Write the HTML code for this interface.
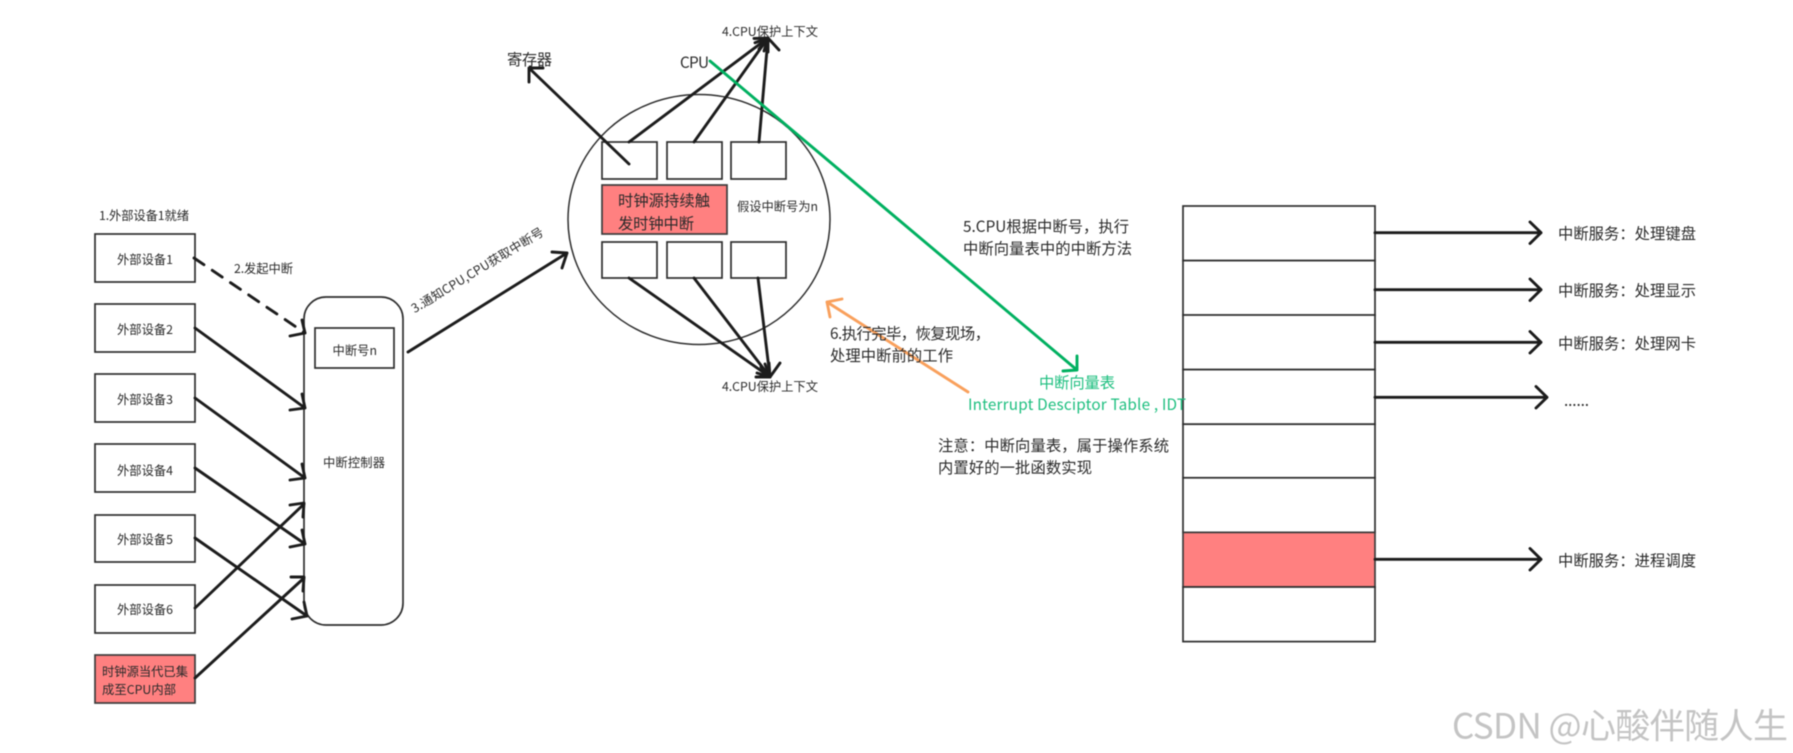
<!DOCTYPE html>
<html><head><meta charset="utf-8">
<style>
html,body{margin:0;padding:0;background:#fff;width:1793px;height:753px;overflow:hidden}
svg{display:block;filter:blur(.5px)}
text{font-family:"Noto Sans CJK SC","Liberation Sans",sans-serif;fill:#2a2a2a;dominant-baseline:central}
.b{fill:#fff;stroke:#2e2e2e;stroke-width:1.7}
.r{fill:#ff8080;stroke:#3c3c3c;stroke-width:1.7}
.a{fill:none;stroke:#1c1c1c;stroke-width:2.9;stroke-linecap:round;stroke-linejoin:round}
.s{font-size:12.3px}
.m{font-size:15.3px}
</style></head><body>
<svg width="1793" height="753" viewBox="0 0 1793 753" xmlns="http://www.w3.org/2000/svg">
<rect width="1793" height="753" fill="#fff"/>

<!-- devices -->
<rect class="b" x="95" y="234" width="100" height="48"/>
<rect class="b" x="95" y="304" width="100" height="48"/>
<rect class="b" x="95" y="374" width="100" height="48"/>
<rect class="b" x="95" y="444" width="100" height="48"/>
<rect class="b" x="95" y="515" width="100" height="47"/>
<rect class="b" x="95" y="585" width="100" height="48"/>
<rect class="r" x="95" y="655" width="100" height="48"/>
<text class="s" x="99" y="215" textLength="90">1.外部设备1就绪</text>
<text class="s" x="117" y="259" textLength="56">外部设备1</text>
<text class="s" x="117" y="329" textLength="56">外部设备2</text>
<text class="s" x="117" y="399" textLength="56">外部设备3</text>
<text class="s" x="117" y="470" textLength="56">外部设备4</text>
<text class="s" x="117" y="539" textLength="56">外部设备5</text>
<text class="s" x="117" y="609" textLength="56">外部设备6</text>
<text class="s" x="102" y="671" textLength="86">时钟源当代已集</text>
<text class="s" x="102" y="689" textLength="74">成至CPU内部</text>
<text class="s" x="234" y="268" textLength="59">2.发起中断</text>

<!-- controller -->
<rect class="b" x="304" y="297" width="99" height="328" rx="22" ry="22"/>
<rect class="b" x="315" y="328" width="79" height="40"/>
<text class="s" x="332.5" y="350" textLength="44.5">中断号n</text>
<text class="s" x="323" y="462" textLength="62">中断控制器</text>

<!-- device arrows -->
<path class="a" d="M194 258L305 333" stroke-dasharray="12 10"/>
<path class="a" d="M290 336L305 333L302 320"/>
<path class="a" d="M195 328L305 408M290 410L305 408L302 394"/>
<path class="a" d="M195 398L305 478M290 480L305 478L302 464"/>
<path class="a" d="M195 468L305 544M290 547L305 544L302 530"/>
<path class="a" d="M195 538L307 616M292 619L307 616L304 602"/>
<path class="a" d="M195 608L304 504M290 505L304 503L303 517"/>
<path class="a" d="M195 678L304 578M291 577L304 577L303 591"/>

<!-- notify -->
<path class="a" d="M408 352L567 253M552 252L567 253L562 268"/>
<text class="s" transform="translate(412 309) rotate(-31.2)" textLength="152">3.通知CPU,CPU获取中断号</text>

<!-- CPU circle -->
<ellipse cx="699" cy="219.5" rx="131" ry="125" fill="none" stroke="#2e2e2e" stroke-width="1.5"/>
<rect class="b" x="602" y="142" width="55" height="37" fill-opacity="0"/>
<rect class="b" x="667" y="142" width="55" height="37"/>
<rect class="b" x="731" y="142" width="55" height="37"/>
<rect class="r" x="602" y="185" width="125" height="49"/>
<rect class="b" x="602" y="242" width="55" height="36"/>
<rect class="b" x="667" y="242" width="55" height="36"/>
<rect class="b" x="731" y="242" width="55" height="36"/>
<text class="m" x="618" y="200" textLength="92">时钟源持续触</text>
<text class="m" x="618" y="223" textLength="76">发时钟中断</text>
<text class="s" x="737" y="206" textLength="81">假设中断号为n</text>
<text class="m" x="507" y="59" textLength="45">寄存器</text>
<text class="m" x="680" y="62" textLength="29">CPU</text>
<text class="s" x="722" y="31" textLength="96">4.CPU保护上下文</text>
<text class="s" x="722" y="386" textLength="96">4.CPU保护上下文</text>

<path class="a" d="M629 164L529 68M543 68L529 68L529 82"/>
<path class="a" d="M629 142L768 38M754 38.5L768 38L764 51"/>
<path class="a" d="M694 142L768 38M755 42.7L768 38L768 52"/>
<path class="a" d="M759 142L768 38M759 49L768 38L779 50"/>
<path class="a" d="M629 278L770 377M765 364L770 377L756 377"/>
<path class="a" d="M694 278L770 377M769 363L770 377L757 373"/>
<path class="a" d="M758 278L770 377M780 363L770 377L761 367"/>

<!-- green & orange -->
<path d="M710 61L1077 370M1063 371L1077 370L1077 356" fill="none" stroke="#00b060" stroke-width="2.9" stroke-linecap="round" stroke-linejoin="round"/>
<path d="M968 392L827 302M842 299L827 302L830 317" fill="none" stroke="#f9a05c" stroke-width="2.9" stroke-linecap="round" stroke-linejoin="round"/>

<text class="m" x="963" y="226" textLength="166">5.CPU根据中断号，执行</text>
<text class="m" x="963" y="248" textLength="169">中断向量表中的中断方法</text>
<text class="m" x="830" y="333" textLength="160">6.执行完毕，恢复现场，</text>
<text class="m" x="830" y="355" textLength="123">处理中断前的工作</text>
<text class="m" x="938" y="445" textLength="231">注意：中断向量表，属于操作系统</text>
<text class="m" x="938" y="467" textLength="154">内置好的一批函数实现</text>

<!-- table -->
<rect class="b" x="1183" y="206" width="192" height="54.6"/>
<rect class="b" x="1183" y="260.6" width="192" height="54.6"/>
<rect class="b" x="1183" y="315" width="192" height="54.6"/>
<rect class="b" x="1183" y="369.6" width="192" height="54.6"/>
<rect class="b" x="1183" y="424.2" width="192" height="53.6"/>
<rect class="b" x="1183" y="477.8" width="192" height="54.6"/>
<rect class="r" x="1183" y="532.4" width="192" height="54.6"/>
<rect class="b" x="1183" y="587" width="192" height="54.6"/>

<text x="968" y="404" font-size="15.3" textLength="218" style="fill:#1dbf7f">Interrupt Desciptor Table , IDT</text>
<text x="1039" y="382" font-size="15.3" textLength="76" style="fill:#1dbf7f">中断向量表</text>

<path class="a" d="M1375 232.7H1541M1530 222L1541 232.7L1530 243.5"/>
<path class="a" d="M1375 289.7H1541M1530 279L1541 289.7L1530 300.5"/>
<path class="a" d="M1375 342.3H1541M1530 331.5L1541 342.3L1530 353"/>
<path class="a" d="M1375 397.3H1547M1536 386.5L1547 397.3L1536 408"/>
<path class="a" d="M1375 559.3H1541M1530 548.5L1541 559.3L1530 570"/>
<text class="m" x="1558" y="233" textLength="138">中断服务：处理键盘</text>
<text class="m" x="1558" y="290" textLength="138">中断服务：处理显示</text>
<text class="m" x="1558" y="343" textLength="138">中断服务：处理网卡</text>
<text class="m" x="1564" y="400" textLength="25">......</text>
<text class="m" x="1558" y="560" textLength="138">中断服务：进程调度</text>

<!-- watermark -->
<text x="1452" y="724" font-size="35" textLength="336" style="fill:#c4c4c4;font-family:'WenQuanYi Zen Hei','Noto Sans CJK SC',sans-serif">CSDN @心酸伴随人生</text>
</svg>
</body></html>
